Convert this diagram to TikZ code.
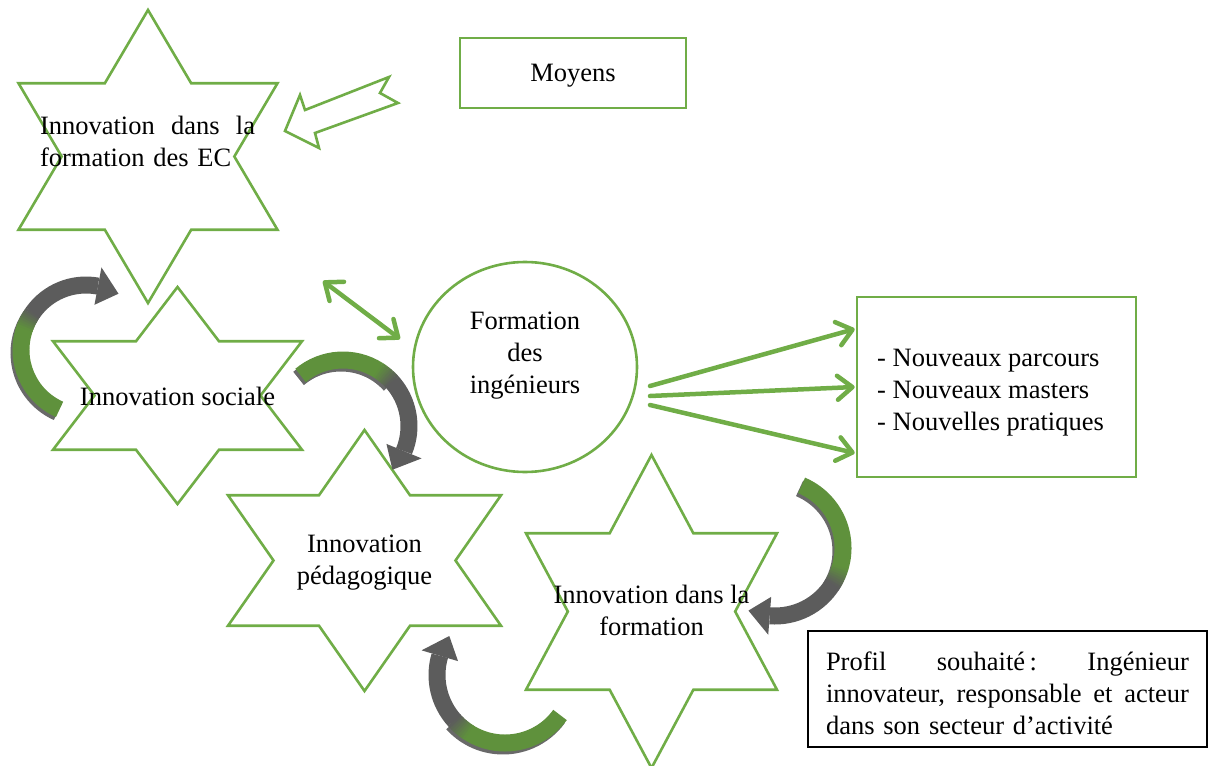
\documentclass[tikz,border=0pt]{standalone}
\usepackage{fontspec}
\setmainfont{Liberation Serif}
\usetikzlibrary{arrows.meta,shapes.geometric,calc}
\definecolor{linegreen}{RGB}{112,173,71}
\definecolor{bandgreen}{RGB}{95,145,60}
\definecolor{bandgray}{RGB}{92,92,92}
\definecolor{shadowgray}{RGB}{105,105,105}
\tikzset{
  starline/.style={draw=linegreen, line width=2.6pt, line join=miter},
  greenbox/.style={draw=linegreen, line width=2.6pt, rectangle, inner sep=0pt},
  txt/.style={font=\fontsize{26.5}{32}\selectfont, inner sep=0pt},
  greenarrow/.style={draw=linegreen, line width=4.5pt, line cap=round},
  gbarb/.tip={Straight Barb[length=15pt,width=24pt,round]},
}
\newcommand\hexstar[4]{%
  \begin{scope}[shift={(#1,#2)}]
    \draw[starline] (0,-#4) -- ({#3/3},{-#4/2}) -- (#3,{-#4/2}) -- ({2*#3/3},0)
      -- (#3,{#4/2}) -- ({#3/3},{#4/2}) -- (0,#4) -- ({-#3/3},{#4/2})
      -- (-#3,{#4/2}) -- ({-2*#3/3},0) -- (-#3,{-#4/2}) -- ({-#3/3},{-#4/2}) -- cycle;
  \end{scope}}
\newcommand\cyclearrow[6]{%
  \pgfmathsetmacro\cyA{#5-8}%
  \pgfmathsetmacro\cyB{#5+8}%
  \pgfmathsetmacro\cyE{#6-22/#3*57.2958}%
  \begin{scope}[shift={(#1,#2)}]
    \draw[line width=17pt, shadowgray] ([shift={(-2,3)}]#4:#3) arc[start angle=#4, end angle=\cyB, radius=#3];
    \draw[line width=17pt, bandgreen] (#4:#3) arc[start angle=#4, end angle=\cyA+0.5, radius=#3];
    \foreach \k in {0,...,7}{%
      \pgfmathsetmacro\cyS{\cyA+2*\k}%
      \pgfmathsetmacro\cyT{\cyS+2.5}%
      \pgfmathtruncatemacro\cyP{100-12.5*\k-6}%
      \draw[line width=17pt, bandgreen!\cyP!bandgray] (\cyS:#3) arc[start angle=\cyS, end angle=\cyT, radius=#3];
    }
    \draw[line width=17pt, bandgray] (\cyB:#3) arc[start angle=\cyB, end angle=\cyE, radius=#3];
    \fill[bandgray] (\cyE:{#3+19}) -- (#6:#3) -- (\cyE:{#3-19}) -- cycle;
  \end{scope}}
\newcommand\fullline[2]{\leavevmode\hbox to #1{#2}}
\begin{document}
\begin{tikzpicture}[x=1pt, y=-1pt]
\useasboundingbox (0,0) rectangle (1209,765);
% stars
\hexstar{148}{156.5}{129.5}{146.5}
\hexstar{177.5}{395.5}{124.5}{108.5}
\hexstar{364.5}{560.5}{136.5}{130.5}
\hexstar{651.5}{611.5}{125.5}{156.5}
% ellipse and boxes
\node[draw=linegreen, line width=2.6pt, ellipse, minimum width=224pt, minimum height=210pt, inner sep=0pt] (ell) at (525,367) {};
\node[greenbox, minimum width=226pt, minimum height=70pt] (moy) at (573,73) {};
\node[greenbox, minimum width=279pt, minimum height=180pt] (rbox) at (996.5,387) {};
\node[draw=black, line width=1.4pt, minimum width=399pt, minimum height=116pt, inner sep=0pt] (pbox) at (1007.5,689) {};
% hollow block arrow
\draw[starline, fill=white] (285,131) -- (300,95) -- (305,110) -- (389,77) -- (380,93)
  -- (398,103) -- (315,133) -- (319,148) -- cycle;
% double arrow
\coordinate (da1) at (323,281);
\coordinate (da2) at (400,339);
\draw[greenarrow, gbarb-gbarb] (da1) -- (da2);
% three arrows
\coordinate (s1) at (650,386);
\coordinate (s2) at (650,396);
\coordinate (s3) at (650,405);
\coordinate (e1) at ($(rbox.west)+(-1,-58)$);
\coordinate (e2) at ($(rbox.west)+(-1,0)$);
\coordinate (e3) at ($(rbox.west)+(-1,66)$);
\draw[greenarrow, -gbarb] (s1) -- (e1);
\draw[greenarrow, -gbarb] (s2) -- (e2);
\draw[greenarrow, -gbarb] (s3) -- (e3);
% curved arrows
\cyclearrow{86}{350}{65}{114}{207}{300}
\cyclearrow{343}{426}{66}{230}{310}{401.5}
\cyclearrow{775}{548}{68}{-67}{24}{113}
\cyclearrow{505}{675}{68}{36}{130}{215}
% texts
\node[txt, anchor=base] (moytxt) at (573,81.5) {Moyens};
\node[txt, text width=215pt, align=left] (t1) at (147.5,141) {\fullline{215pt}{Innovation\hfill dans\hfill la}\\formation des EC};
\node[txt, anchor=base] (t2) at (177.5,405) {Innovation sociale};
\node[txt, align=center] (t3) at (364.5,563) {Innovation\\pédagogique};
\node[txt, align=center] (t4) at (651.5,610.5) {Innovation dans la\\formation};
\node[txt, align=center] (etxt) at (525,356) {Formation\\des\\ingénieurs};
\node[txt, anchor=west, align=left] (rtxt) at (877,393) {- Nouveaux parcours\\- Nouveaux masters\\- Nouvelles pratiques};
\node[txt, text width=363pt, align=left] (ptxt) at (1007.5,693.5) {\fullline{363pt}{Profil\hfill souhaité\,:\hfill Ingénieur}\\\fullline{363pt}{innovateur,\hfill responsable\hfill et\hfill acteur}\\dans son secteur d’activité};
\end{tikzpicture}
\end{document}
